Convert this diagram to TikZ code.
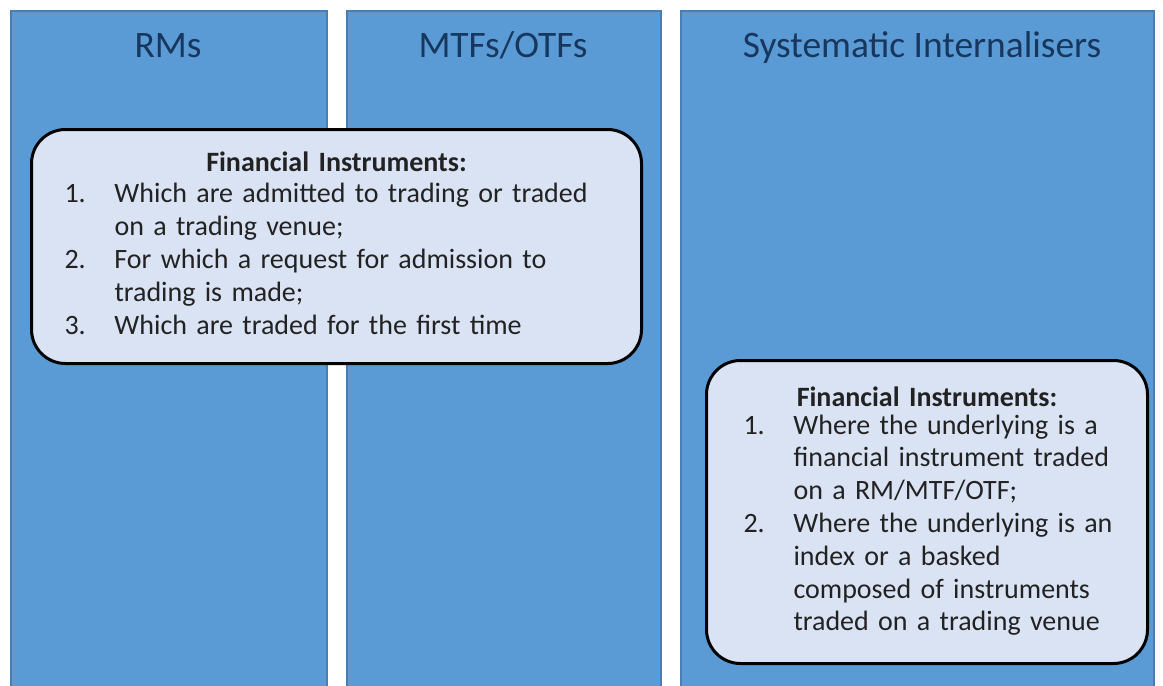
\documentclass[tikz,border=0pt]{standalone}
\usepackage{fontspec}
\setmainfont{Carlito}
\usetikzlibrary{positioning}
\definecolor{venueblue}{HTML}{5B9BD5}
\definecolor{venueedge}{HTML}{4A7DB0}
\definecolor{boxblue}{HTML}{DAE3F3}
\definecolor{headblue}{HTML}{17375E}
\definecolor{bodygray}{HTML}{222222}

\begin{document}
\begin{tikzpicture}[x=0.5pt, y=-0.5pt,
    venue/.style={draw=venueedge, line width=0.8pt, fill=venueblue, anchor=north west, inner sep=0pt},
    heading/.style={anchor=base, text=headblue, font=\fontsize{18.7}{22}\selectfont},
    infobox/.style={draw=black, line width=1.5pt, fill=boxblue, rounded corners=17pt, anchor=north west,
        inner ysep=0pt, text=bodygray, font=\fontsize{14}{16.4}\selectfont, align=left}]
    \useasboundingbox (0,0) rectangle (1163,686);

    % the three venue columns
    \node [venue, minimum width=158pt, minimum height=340pt] (rm) at (10,10) {};
    \node [venue, minimum width=157pt, minimum height=340pt] (mtf) at (346,10) {};
    \node [venue, minimum width=236.5pt, minimum height=340pt] (si) at (680,10) {};

    \node [heading] (rmhead) at (168,57) {RMs};
    \node [heading] (mtfhead) at (503,57) {MTFs/OTFs};
    \node [heading] (sihead) at (922,57) {Systematic Internalisers};

    % instruments covered
    \node [infobox, minimum width=305pt, minimum height=117pt, inner xsep=16.5pt, text width=272pt] (tvbox) at (30,128) {%
        {\centering\textbf{Financial Instruments:}\par}\vspace{3pt}
        \noindent\begin{tabular}{@{}p{25pt}@{}l@{}}
        1. & Which are admitted to trading or traded\\
           & on a trading venue;\\
        2. & For which a request for admission to\\
           & trading is made;\\
        3. & Which are traded for the first time
        \end{tabular}\par\vspace{-1.5pt}};

    \node [infobox, minimum width=220.5pt, minimum height=151.5pt, inner xsep=18.5pt, text width=183.5pt] (sibox) at (705,359) {%
        {\centering\textbf{Financial Instruments:}\par}\vspace{1pt}
        \noindent\begin{tabular}{@{}p{25pt}@{}l@{}}
        1. & Where the underlying is a\\
           & financial instrument traded\\
           & on a RM/MTF/OTF;\\
        2. & Where the underlying is an\\
           & index or a basked\\
           & composed of instruments\\
           & traded on a trading venue
        \end{tabular}\par\vspace{-2pt}};
\end{tikzpicture}
\end{document}
